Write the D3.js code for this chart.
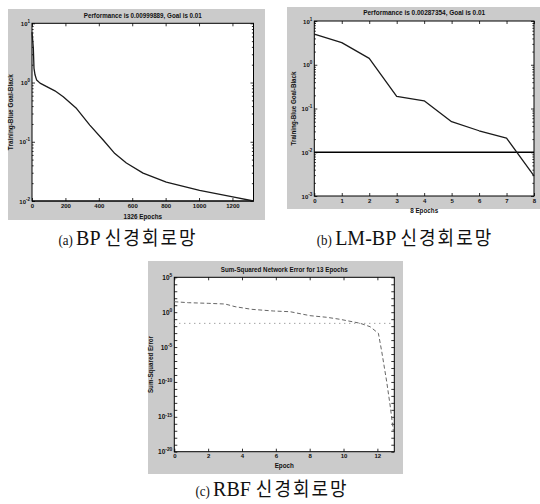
<!DOCTYPE html>
<html>
<head>
<meta charset="utf-8">
<script src="https://cdn.jsdelivr.net/npm/d3@7"></script>
<style>
  html, body { margin: 0; padding: 0; background: #ffffff; }
  svg { display: block; }
</style>
</head>
<body>
<script>
// ---------------- data ----------------
// (a) BP network: training error vs epoch
const epochsA = [0, 4, 8, 12, 18, 28, 48, 88, 137, 187, 267, 346, 426, 496, 565, 665, 804, 1003, 1202, 1326];
const errorA  = [7.08, 5.25, 3.80, 1.74, 1.35, 1.10, 0.977, 0.851, 0.724, 0.575, 0.363, 0.191, 0.107, 0.0631, 0.0437, 0.0295, 0.0209, 0.0151, 0.0117, 0.00999889];
const goalA = 0.01;
const xTicksA = [0, 200, 400, 600, 800, 1000, 1200];
const yExpA = [1, 0, -1, -2];

// (b) LM-BP network
const epochsB = [0, 1, 2, 3, 4, 5, 6, 7, 8];
const errorB  = [5.0, 3.2, 1.4, 0.19, 0.15, 0.05, 0.031, 0.021, 0.00287354];
const goalB = 0.01;
const xTicksB = [0, 1, 2, 3, 4, 5, 6, 7, 8];
const yExpB = [1, 0, -1, -2, -3];

// (c) RBF network
const epochsC = [0, 0.83, 2.0, 3.0, 3.59, 4.57, 5.85, 6.84, 8.02, 9.0, 9.79, 10.98, 11.57, 12.06, 12.26, 12.55, 12.75, 12.95];
const errorC  = [31.6, 22.9, 18.6, 14.8, 6.17, 2.57, 1.48, 1.17, 0.316, 0.186, 0.0955, 0.0257, 0.0083, 0.00093, 2.1e-6, 1.1e-10, 5e-14, 8e-18];
const goalC = 0.025;
const xTicksC = [0, 2, 4, 6, 8, 10, 12];
const yExpC = [5, 0, -5, -10, -15, -20];

const titles = [
  "Performance is 0.00999889, Goal is 0.01",
  "Performance is 0.00287354, Goal is 0.01",
  "Sum-Squared Network Error for 13 Epochs"
];
const xLabels = ["1326 Epochs", "8 Epochs", "Epoch"];
const yLabels = ["Training-Blue  Goal-Black", "Training-Blue  Goal-Black", "Sum-Squared Error"];
const captionTags = ["(a)", "(b)", "(c)"];
const captionNames = ["BP", "LM-BP", "RBF"];
const captionKo = "신경회로망";

// ---------------- drawing ----------------
const svg = d3.select("body").append("svg").attr("width", 540).attr("height", 504);
const BG = "#cbcbcb";
const FONT = "'Liberation Sans', Arial, sans-serif";

function panel(cfg) {
  const g = svg.append("g");
  g.append("rect").attr("x", cfg.bg[0]).attr("y", cfg.bg[1]).attr("width", cfg.bg[2]).attr("height", cfg.bg[3]).attr("fill", BG);

  const x = d3.scaleLinear().domain(cfg.xDomain).range([cfg.l, cfg.r]);
  const y = d3.scaleLog().domain(cfg.yDomain).range([cfg.b, cfg.t]);

  g.append("rect").attr("x", cfg.l).attr("y", cfg.t).attr("width", cfg.r - cfg.l).attr("height", cfg.b - cfg.t)
    .attr("fill", "#ffffff");

  const majorVals = [];
  const lo = Math.round(Math.log10(cfg.yDomain[0])), hi = Math.round(Math.log10(cfg.yDomain[1]));
  for (let e = lo; e <= hi; e += cfg.yStep) majorVals.push(Math.pow(10, e));
  const minorVals = [];
  if (cfg.minor) {
    for (let e = lo; e < hi; e++) for (let k = 2; k <= 9; k++) minorVals.push(k * Math.pow(10, e));
  }

  function styleAxis(sel) {
    sel.select(".domain").remove();
    sel.selectAll("line").attr("stroke", "#000").attr("stroke-width", 0.8);
    sel.attr("font-size", 6).attr("font-family", FONT).attr("font-weight", "bold");
    sel.selectAll("text").attr("fill", "#111");
  }

  // bottom / top x ticks
  g.append("g").attr("transform", `translate(0,${cfg.b})`)
    .call(d3.axisBottom(x).tickValues(cfg.xTicks).tickSize(-3).tickPadding(2.5).tickFormat(d3.format("d")))
    .call(styleAxis);
  g.append("g").attr("transform", `translate(0,${cfg.t})`)
    .call(d3.axisTop(x).tickValues(cfg.xTicks).tickSize(-3).tickFormat(""))
    .call(styleAxis);

  // left / right y ticks
  g.append("g").attr("transform", `translate(${cfg.l},0)`)
    .call(d3.axisLeft(y).tickValues(majorVals).tickSize(-3).tickFormat(""))
    .call(styleAxis);
  g.append("g").attr("transform", `translate(${cfg.r},0)`)
    .call(d3.axisRight(y).tickValues(majorVals).tickSize(-3).tickFormat(""))
    .call(styleAxis);
  if (minorVals.length) {
    g.append("g").attr("transform", `translate(${cfg.l},0)`)
      .call(d3.axisLeft(y).tickValues(minorVals).tickSize(-1.6).tickFormat(""))
      .call(styleAxis);
    g.append("g").attr("transform", `translate(${cfg.r},0)`)
      .call(d3.axisRight(y).tickValues(minorVals).tickSize(-1.6).tickFormat(""))
      .call(styleAxis);
  }

  // y tick labels 10^e
  cfg.yExp.forEach(e => {
    const t = g.append("text").attr("x", cfg.l - 2).attr("y", y(Math.pow(10, e)) + 2.5)
      .attr("text-anchor", "end").attr("font-size", cfg.yTickFont).attr("font-family", FONT).attr("font-weight", "bold").attr("fill", "#111");
    t.append("tspan").text("10");
    t.append("tspan").attr("dy", -2.8).attr("font-size", cfg.yTickFont * 0.75).text(String(e));
  });

  // plot frame
  g.append("rect").attr("x", cfg.l).attr("y", cfg.t).attr("width", cfg.r - cfg.l).attr("height", cfg.b - cfg.t)
    .attr("fill", "none").attr("stroke", "#000").attr("stroke-width", 1);

  // goal line
  g.append("line").attr("x1", cfg.l).attr("x2", cfg.r).attr("y1", y(cfg.goal)).attr("y2", y(cfg.goal))
    .attr("stroke", cfg.goalColor).attr("stroke-width", cfg.goalWidth).attr("stroke-dasharray", cfg.goalDash);

  // training curve
  const line = d3.line().x(d => x(d[0])).y(d => y(d[1]));
  g.append("path").datum(d3.zip(cfg.xs, cfg.ys)).attr("d", line)
    .attr("fill", "none").attr("stroke", cfg.lineColor).attr("stroke-width", cfg.lineWidth)
    .attr("stroke-dasharray", cfg.lineDash).attr("stroke-linejoin", "round");

  // title
  const cx = (cfg.l + cfg.r) / 2;
  g.append("text").attr("x", cx).attr("y", cfg.titleY).attr("text-anchor", "middle")
    .attr("font-size", 6.3).attr("font-family", FONT).attr("font-weight", "bold").attr("fill", "#111")
    .attr("textLength", cfg.titleLen).attr("lengthAdjust", "spacingAndGlyphs").text(cfg.title);
  // x label
  g.append("text").attr("x", cx).attr("y", cfg.xLabelY).attr("text-anchor", "middle")
    .attr("font-size", 6.3).attr("font-family", FONT).attr("font-weight", "bold").attr("fill", "#111").text(cfg.xLabel);
  // y label
  const cy = (cfg.t + cfg.b) / 2;
  g.append("text").attr("transform", `translate(${cfg.yLabelX},${cy}) rotate(-90)`).attr("text-anchor", "middle")
    .attr("font-size", 6.3).attr("font-family", FONT).attr("font-weight", "bold").attr("fill", "#111")
    .attr("textLength", cfg.yLabelLen).attr("lengthAdjust", "spacingAndGlyphs").text(cfg.yLabel);

  // caption
  const cap = svg.append("g").attr("transform", `translate(${cfg.capX},${cfg.capY}) scale(1,1.1)`);
  const ct = cap.append("text").attr("text-anchor", "middle").attr("fill", "#111")
    .attr("font-family", "'Liberation Serif', 'Noto Sans CJK KR', serif").attr("font-size", 20);
  ct.append("tspan").attr("font-size", 13).text(cfg.capTag + cfg.capGap);
  ct.append("tspan").text(cfg.capName + " ");
  ct.append("tspan").attr("font-family", "'Noto Sans CJK KR', sans-serif").attr("font-size", 18).attr("letter-spacing", 2).text(captionKo);
}

panel({
  bg: [8, 9, 257, 211], l: 32, t: 23.3, r: 253.5, b: 201,
  xDomain: [0, 1326], yDomain: [0.01, 10], yStep: 1, minor: true, yTickFont: 6,
  xTicks: xTicksA, yExp: yExpA, xs: epochsA, ys: errorA, goal: goalA,
  lineColor: "#1a1a1a", lineWidth: 1.3, lineDash: null,
  goalColor: "#000", goalWidth: 1.2, goalDash: null,
  title: titles[0], titleY: 17.5, titleLen: 118,
  xLabel: xLabels[0], xLabelY: 218.5, yLabel: yLabels[0], yLabelX: 13, yLabelLen: 76,
  capTag: captionTags[0], capGap: " ", capName: captionNames[0], capX: 128, capY: 245
});

panel({
  bg: [287, 7, 253, 202], l: 314.3, t: 21, r: 534, b: 196,
  xDomain: [0, 8], yDomain: [0.001, 10], yStep: 1, minor: true, yTickFont: 6,
  xTicks: xTicksB, yExp: yExpB, xs: epochsB, ys: errorB, goal: goalB,
  lineColor: "#1a1a1a", lineWidth: 1.3, lineDash: null,
  goalColor: "#000", goalWidth: 1.3, goalDash: null,
  title: titles[1], titleY: 15, titleLen: 122,
  xLabel: xLabels[1], xLabelY: 212.5, yLabel: yLabels[1], yLabelX: 296, yLabelLen: 74,
  capTag: captionTags[1], capGap: " ", capName: captionNames[1], capX: 405, capY: 245
});

panel({
  bg: [148, 261, 255, 213], l: 174.3, t: 277.3, r: 394.3, b: 451.7,
  xDomain: [0, 13], yDomain: [1e-20, 1e5], yStep: 1, minor: false, yTickFont: 6.5,
  xTicks: xTicksC, yExp: yExpC, xs: epochsC, ys: errorC, goal: goalC,
  lineColor: "#666", lineWidth: 1, lineDash: "4,2.5",
  goalColor: "#777", goalWidth: 1, goalDash: "1,4",
  title: titles[2], titleY: 271.5, titleLen: 127,
  xLabel: xLabels[2], xLabelY: 467.5, yLabel: yLabels[2], yLabelX: 153, yLabelLen: 57,
  capTag: captionTags[2], capGap: "  ", capName: captionNames[2], capX: 272, capY: 496
});
</script>
</body>
</html>
